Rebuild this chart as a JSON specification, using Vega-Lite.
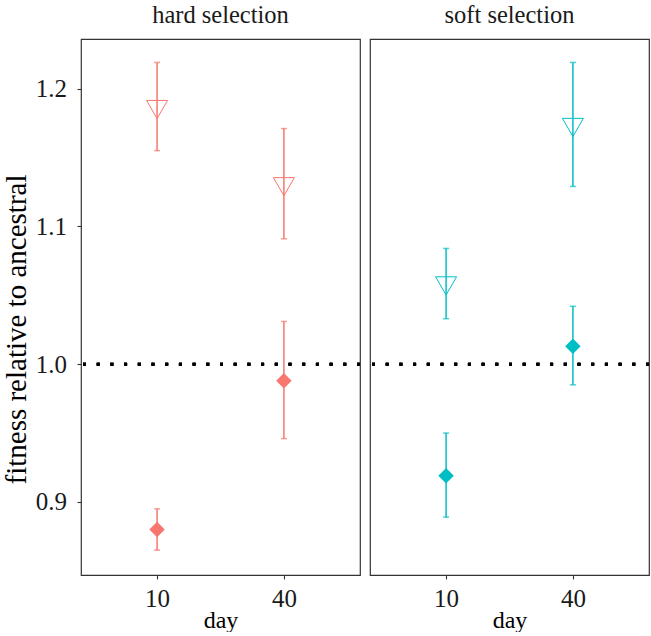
{
  "$schema": "https://vega.github.io/schema/vega-lite/v6.json",
  "padding": {"left": 2, "top": 2, "right": 0, "bottom": 0},
  "background": "white",
  "bounds": "flush",
  "config": {
    "font": "Liberation Serif",
    "view": {"stroke": "#333333", "strokeWidth": 1.2},
    "axis": {"grid": false, "domain": false, "tickColor": "#333333", "tickSize": 4, "tickWidth": 1.1, "labelColor": "#1a1a1a", "titleColor": "#000000", "labelFont": "Liberation Serif", "titleFont": "Liberation Serif", "titleFontWeight": "normal"}
  },
  "data": {"values": [
    {"selection": "hard selection", "day": 10, "series": "open", "value": 1.187, "lo": 1.155, "hi": 1.219},
    {"selection": "hard selection", "day": 40, "series": "open", "value": 1.131, "lo": 1.091, "hi": 1.171},
    {"selection": "hard selection", "day": 10, "series": "filled", "value": 0.880, "lo": 0.865, "hi": 0.895},
    {"selection": "hard selection", "day": 40, "series": "filled", "value": 0.988, "lo": 0.946, "hi": 1.031},
    {"selection": "soft selection", "day": 10, "series": "open", "value": 1.059, "lo": 1.033, "hi": 1.084},
    {"selection": "soft selection", "day": 40, "series": "open", "value": 1.174, "lo": 1.129, "hi": 1.219},
    {"selection": "soft selection", "day": 10, "series": "filled", "value": 0.919, "lo": 0.889, "hi": 0.950},
    {"selection": "soft selection", "day": 40, "series": "filled", "value": 1.013, "lo": 0.985, "hi": 1.042}
  ]},
  "facet": {"column": {"field": "selection", "type": "nominal", "sort": ["hard selection", "soft selection"],
    "header": {"title": null, "labelFont": "Liberation Serif", "labelFontSize": 24.5, "labelColor": "#1a1a1a", "labelPadding": 11}}},
  "spacing": 10,
  "spec": {
    "width": 279,
    "height": 536,
    "encoding": {
      "color": {"field": "selection", "type": "nominal", "scale": {"domain": ["hard selection", "soft selection"], "range": ["#F8766D", "#00BFC4"]}, "legend": null}
    },
    "layer": [
      {
        "mark": {"type": "rule", "color": "#000000", "strokeWidth": 3, "strokeDash": [3, 10.7]},
        "encoding": {
          "y": {"datum": 1.0, "type": "quantitative"},
          "color": {"value": "#000000"}
        }
      },
      {
        "mark": {"type": "rule", "strokeWidth": 1.5},
        "encoding": {
          "x": {"field": "day", "type": "ordinal", "sort": [10, 40],
            "scale": {"type": "point", "padding": 0.6},
            "axis": {"title": "day", "labelAngle": 0, "labelFont": "Liberation Serif", "labelFontSize": 25, "labelPadding": 7, "titleFont": "Liberation Serif", "titleFontSize": 24, "titleBaseline": "alphabetic", "titleY": 52}},
          "y": {"field": "lo", "type": "quantitative",
            "scale": {"domain": [0.847, 1.236], "nice": false, "zero": false},
            "axis": {"title": "fitness relative to ancestral", "values": [0.9, 1.0, 1.1, 1.2], "format": ".1f", "labelFont": "Liberation Serif", "labelFontSize": 25, "labelPadding": 10.5, "titleFont": "Liberation Serif", "titleFontSize": 29, "titleBaseline": "alphabetic", "titleX": -56, "titleY": 290}},
          "y2": {"field": "hi"}
        }
      },
      {
        "mark": {"type": "tick", "thickness": 1.5, "size": 6},
        "encoding": {"x": {"field": "day", "type": "ordinal", "sort": [10, 40]}, "y": {"field": "lo", "type": "quantitative"}}
      },
      {
        "mark": {"type": "tick", "thickness": 1.5, "size": 6},
        "encoding": {"x": {"field": "day", "type": "ordinal", "sort": [10, 40]}, "y": {"field": "hi", "type": "quantitative"}}
      },
      {
        "transform": [{"filter": "datum.series === 'open'"}],
        "mark": {"type": "point", "shape": "triangle-down", "filled": false, "size": 440, "strokeWidth": 1, "yOffset": 3, "opacity": 1},
        "encoding": {"x": {"field": "day", "type": "ordinal", "sort": [10, 40]}, "y": {"field": "value", "type": "quantitative"}}
      },
      {
        "transform": [{"filter": "datum.series === 'filled'"}],
        "mark": {"type": "point", "shape": "diamond", "filled": true, "size": 240, "opacity": 1},
        "encoding": {"x": {"field": "day", "type": "ordinal", "sort": [10, 40]}, "y": {"field": "value", "type": "quantitative"}}
      }
    ]
  }
}
